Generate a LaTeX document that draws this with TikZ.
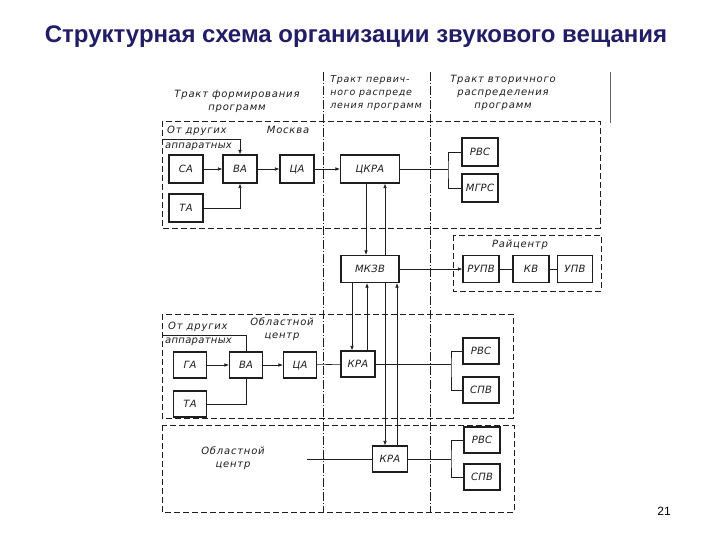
\documentclass[tikz,border=0pt]{standalone}
\usepackage{fontspec}
\setmainfont{Liberation Sans}
\newfontfamily\dfont[LetterSpace=8]{DejaVu Sans}
\newfontfamily\bfont[LetterSpace=3]{DejaVu Sans}
\usetikzlibrary{arrows.meta}
\definecolor{titleblue}{RGB}{34,30,102}
\definecolor{ink}{RGB}{30,30,30}
\begin{document}
\begin{tikzpicture}[x=1pt,y=-1pt,
  blk/.style={draw=ink, line width=1.1pt, minimum width=34pt, minimum height=28pt, inner sep=0pt, text height=7.3pt, text depth=0pt, font=\bfont\itshape\fontsize{10}{11}\selectfont, text=ink},
  lbl/.style={font=\dfont\itshape\fontsize{10}{13}\selectfont, text=ink, align=left, inner sep=0pt},
  hdr/.style={font=\dfont\itshape\fontsize{10}{13}\selectfont, text=ink, align=center, inner sep=0pt},
  arr/.style={draw=ink, line width=0.6pt, -{Latex[length=4.5pt,width=3.5pt]}},
  ln/.style={draw=ink, line width=0.6pt},
  dbox/.style={draw=ink, line width=0.8pt, dash pattern=on 6pt off 3pt},
  sep/.style={draw=ink, line width=0.7pt, dash pattern=on 9pt off 2pt on 1pt off 2pt}]
\useasboundingbox (0,0) rectangle (720,540);
\fill[white] (0,0) rectangle (720,540);
% title
\node[font=\bfseries\fontsize{24}{28}\selectfont, text=titleblue] (title) at (356,37) {Структурная схема организации звукового вещания};
\node[font=\fontsize{12}{14}\selectfont] (page) at (664,511) {21};

% separators and frames
\draw[sep] (323,72) -- (323,512);
\draw[sep] (430,72) -- (430,512);
\draw[ink!70, line width=0.8pt] (610,72) -- (610,123);
\draw[dbox] (162,121) rectangle (600,228);
\draw[dbox] (453,235) rectangle (601,291);
\draw[dbox] (162,314) rectangle (513,418);
\draw[dbox] (162,425) rectangle (514,512);

% headers
\node[hdr] (h1) at (237,101) {Тракт формирования\\программ};
\node[hdr, align=left, font=\dfont\itshape\fontsize{9.5}{13}\selectfont] (h2) at (376,93) {Тракт первич-\\ного распреде\\ления программ};
\node[hdr] (h3) at (503,93) {Тракт вторичного\\распределения\\программ};

% Moscow
\node[lbl, anchor=west] (ot1) at (167,131) {От других};
\node[lbl, anchor=west, font=\bfont\itshape\fontsize{10}{13}\selectfont] (ap1) at (165,147) {аппаратных};
\node[lbl] (msk) at (288,130) {Москва};
\node[blk] (sa) at (186,169) {СА};
\node[blk] (va) at (240,169) {ВА};
\node[blk] (ca) at (297,169) {ЦА};
\node[blk, minimum width=59pt] (ckra) at (370,169) {ЦКРА};
\node[blk] (ta) at (186,208) {ТА};
\node[blk, minimum width=36pt] (rvs1) at (480,152) {РВС};
\node[blk, minimum width=36pt] (mgrs) at (480,188) {МГРС};
\coordinate (in1) at (162,139);
\draw[arr] (in1) -| (va.north);
\draw[arr] (sa) -- (va);
\draw[arr] (ta) -| (va);
\draw[arr] (va) -- (ca);
\draw[arr] (ca) -- (ckra);
\coordinate (b1) at (448,169);
\draw[ln] (ckra.east) -- (b1);
\draw[ln] (rvs1.west) -| (b1) |- (mgrs.west);

% MKZV and Raicentr
\node[blk, minimum width=58pt, minimum height=27pt] (mkzv) at (370,269) {МКЗВ};
\node[lbl] (rc) at (520,245) {Райцентр};
\node[blk, minimum width=36pt, minimum height=27pt] (rupv) at (481,269) {РУПВ};
\node[blk, minimum width=36pt, minimum height=27pt] (kv) at (531,269) {КВ};
\node[blk, minimum width=35pt, minimum height=27pt] (upv) at (575,269) {УПВ};
\draw[arr] (mkzv) -- (rupv);
\draw[ln] (rupv) -- (kv);
\draw[ln] (kv) -- (upv);
\coordinate (c1) at ([xshift=-4pt]ckra.south);
\coordinate (c2) at ([xshift=15pt]ckra.south);
\draw[arr] (c1) -- (c1 |- mkzv.north);
\draw[arr] (c2 |- mkzv.north) -- (c2);

% Oblast 1
\node[lbl, anchor=west] (ot2) at (168,327) {От других};
\node[lbl, anchor=west, font=\bfont\itshape\fontsize{10}{13}\selectfont] (ap2) at (165,342) {аппаратных};
\node[lbl, align=center] (obl1) at (282,329) {Областной\\центр};
\node[blk, minimum width=33pt, minimum height=26pt] (ga2) at (190,365) {ГА};
\node[blk, minimum width=33pt, minimum height=26pt] (va2) at (246,365) {ВА};
\node[blk, minimum width=33pt, minimum height=26pt] (ca2) at (300,365) {ЦА};
\node[blk, minimum width=34pt, minimum height=26pt] (kra1) at (358,364) {КРА};
\node[blk, minimum width=33pt, minimum height=26pt] (ta2) at (190,404) {ТА};
\node[blk, minimum width=36pt, minimum height=26pt] (rvs2) at (481,351) {РВС};
\node[blk, minimum width=36pt, minimum height=26pt] (spv2) at (481,390) {СПВ};
\coordinate (in2) at (162,335);
\draw[ln] (in2) -| (va2.north);
\draw[arr] (ga2) -- (va2);
\draw[ln] (ta2) -| (va2);
\draw[arr] (va2) -- (ca2);
\draw[ln] (ca2) -- (kra1);
\coordinate (b2) at (451,364);
\draw[ln] (kra1.east) -- (b2);
\draw[ln] (rvs2.west) -| (b2) |- (spv2.west);
\coordinate (d1) at ([xshift=-18pt]mkzv.south);
\coordinate (d2) at ([xshift=-3pt]mkzv.south);
\draw[arr] (d1) -- (d1 |- kra1.north);
\draw[arr] (d2 |- kra1.north) -- (d2);

% Oblast 2
\node[lbl, align=center] (obl2) at (233,458) {Областной\\центр};
\node[blk, minimum width=35pt, minimum height=26pt] (kra2) at (390,459) {КРА};
\node[blk, minimum width=36pt, minimum height=26pt] (rvs3) at (482,440) {РВС};
\node[blk, minimum width=36pt, minimum height=26pt] (spv3) at (482,477) {СПВ};
\coordinate (o2) at (307,459);
\draw[ln] (o2) -- (kra2.west);
\coordinate (b3) at (451,459);
\draw[ln] (kra2.east) -- (b3);
\draw[ln] (rvs3.west) -| (b3) |- (spv3.west);
\coordinate (e1) at ([xshift=15pt]mkzv.south);
\coordinate (e2) at ([xshift=27pt]mkzv.south);
\draw[arr] (e1) -- (e1 |- kra2.north);
\draw[arr] (e2 |- kra2.north) -- (e2);
\end{tikzpicture}
\end{document}
